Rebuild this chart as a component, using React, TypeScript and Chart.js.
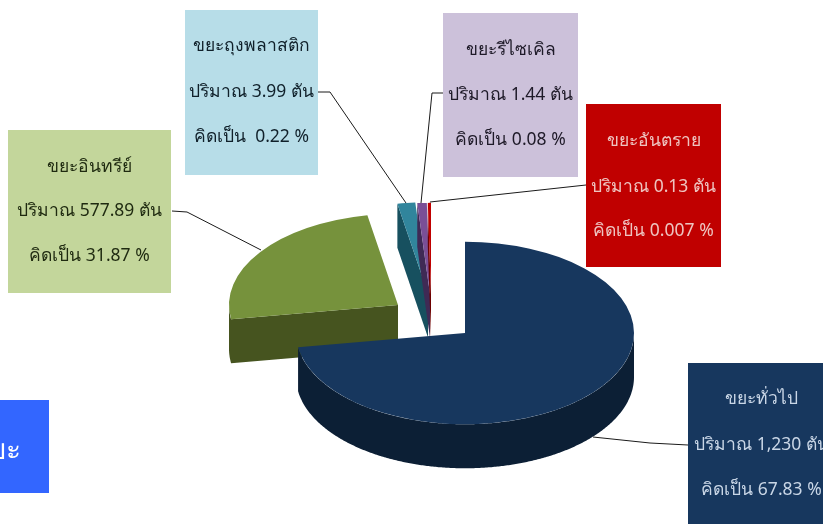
import React, { useEffect, useRef } from "react";
import { Chart, registerables } from "chart.js";

Chart.register(...registerables);

// Slice shares as they appear in the drawn pie (the printed tonnages differ from the drawn shape).
const sliceNames = ["ขยะทั่วไป", "ขยะอินทรีย์", "ขยะถุงพลาสติก", "ขยะรีไซเคิล", "ขยะอันตราย"];
const sliceShares = [72.5, 24.6, 1.7, 0.9, 0.3];
const tonnes = ["1,230", "577.89", "3.99", "1.44", "0.13"];
const percents = ["67.83", "31.87", " 0.22", "0.08", "0.007"];

const topColors = ["#17375e", "#76923c", "#31859c", "#7a4f96", "#c00000"];
const sideColors = ["#0c1f35", "#46541f", "#17505f", "#3f2a55", "#6d0000"];

const boxColors = ["#17375e", "#c3d69b", "#b7dde8", "#ccc1da", "#c00000"];
const textColors = ["#c9d6e6", "#1f2a10", "#10202a", "#1e1a28", "#eec4c0"];
// x0, y0, x1, y1 of the note boxes
const boxes = [
  [688, 363, 835, 524],
  [8, 130, 171, 293],
  [185, 10, 318, 175],
  [443, 13, 578, 177],
  [586, 104, 721, 267],
];
const lineRows = [
  [399, 445, 490],
  [167, 211, 256],
  [46, 92, 137],
  [50, 95, 140],
  [141, 187, 231],
];
const leaders = [
  [[593, 437], [650, 443], [688, 445]],
  [[172, 211], [187, 212], [261, 250]],
  [[318, 92], [330, 92], [406, 203]],
  [[443, 93], [432, 93], [421, 203]],
  [[586, 185], [430, 202]],
];
// Explosion of each slice from the pie centre, in unsquashed chart units.
const explode = [
  [0, 0],
  [-67, -52],
  [-37, -73],
  [-35, -72],
  [-34, -72],
];
const drawOrder = [1, 2, 3, 4, 0];

const SQUASH = 0.54;
const CENTER_Y = 333;
const DEPTH = 44;
const FONT = '17.5px "Noto Sans", "DejaVu Sans", sans-serif';

// Fills the wall below every run of slice edges that faces the viewer.
function drawWalls(ctx: any, arc: any, cy: number, color: string) {
  const toScreen = (x: number, y: number) => [x, CENTER_Y + (y - cy) * SQUASH];
  const pts = [toScreen(arc.x, arc.y)];
  const steps = Math.max(2, Math.ceil(((arc.endAngle - arc.startAngle) * 180) / Math.PI * 2));
  for (let k = 0; k <= steps; k++) {
    const a = arc.startAngle + ((arc.endAngle - arc.startAngle) * k) / steps;
    pts.push(toScreen(arc.x + arc.outerRadius * Math.cos(a), arc.y + arc.outerRadius * Math.sin(a)));
  }
  pts.push(pts[0]);
  const flush = (chain: number[][]) => {
    if (chain.length < 2) return;
    ctx.beginPath();
    chain.forEach(([x, y], k) => (k ? ctx.lineTo(x, y) : ctx.moveTo(x, y)));
    [...chain].reverse().forEach(([x, y]) => ctx.lineTo(x, y + DEPTH));
    ctx.closePath();
    ctx.fillStyle = color;
    ctx.fill();
  };
  let chain: number[][] = [];
  for (let k = 0; k < pts.length - 1; k++) {
    if (pts[k + 1][0] < pts[k][0]) {
      if (!chain.length) chain.push(pts[k]);
      chain.push(pts[k + 1]);
    } else {
      flush(chain);
      chain = [];
    }
  }
  flush(chain);
}

const pie3d = {
  id: "pie3d",
  afterDatasetsUpdate(chart: any) {
    const arcs = chart.getDatasetMeta(0).data;
    arcs.forEach((arc: any, i: number) => {
      arc.x += explode[i][0];
      arc.y += explode[i][1];
    });
  },
  beforeDatasetDraw(chart: any) {
    const ctx = chart.ctx;
    const arcs = chart.getDatasetMeta(0).data;
    const cy = (chart.chartArea.top + chart.chartArea.bottom) / 2;
    for (const i of drawOrder) {
      const arc = arcs[i];
      drawWalls(ctx, arc, cy, sideColors[i]);
      ctx.save();
      ctx.translate(0, CENTER_Y);
      ctx.scale(1, SQUASH);
      ctx.translate(0, -cy);
      arc.draw(ctx);
      ctx.restore();
    }
    return false;
  },
  afterDraw(chart: any) {
    const ctx = chart.ctx;
    ctx.save();
    ctx.strokeStyle = "#1a1a1a";
    ctx.lineWidth = 1;
    leaders.forEach((pts) => {
      ctx.beginPath();
      pts.forEach(([x, y], k) => (k ? ctx.lineTo(x, y) : ctx.moveTo(x, y)));
      ctx.stroke();
    });
    ctx.font = FONT;
    ctx.textAlign = "center";
    ctx.textBaseline = "middle";
    boxes.forEach(([x0, y0, x1, y1], i) => {
      ctx.fillStyle = boxColors[i];
      ctx.fillRect(x0, y0, x1 - x0, y1 - y0);
      ctx.fillStyle = textColors[i];
      const cx = (x0 + x1) / 2;
      const rows = [sliceNames[i], `ปริมาณ ${tonnes[i]} ตัน`, `คิดเป็น ${percents[i]} %`];
      rows.forEach((t, r) => ctx.fillText(t, cx, lineRows[i][r]));
    });
    ctx.fillStyle = "#3366ff";
    ctx.fillRect(0, 400, 49, 93);
    ctx.fillStyle = "#ffffff";
    ctx.textAlign = "right";
    ctx.font = '28px "Noto Sans", "DejaVu Sans", sans-serif';
    ctx.fillText("ขยะ", 21, 451);
    ctx.restore();
  },
};

export default function App() {
  const ref = useRef<HTMLCanvasElement>(null);
  useEffect(() => {
    document.body.style.margin = "0";
    const chart = new Chart(ref.current!, {
      type: "pie",
      data: {
        labels: sliceNames,
        datasets: [
          {
            data: sliceShares,
            backgroundColor: topColors,
            borderWidth: 0,
            hoverOffset: 0,
          },
        ],
      },
      options: {
        responsive: false,
        animation: false,
        layout: { padding: { left: 296, right: 189, top: 93, bottom: 93 } },
        plugins: { legend: { display: false }, tooltip: { enabled: false } },
      },
      plugins: [pie3d],
    });
    return () => chart.destroy();
  }, []);
  return <canvas ref={ref} width={823} height={524} style={{ display: "block" }} />;
}
